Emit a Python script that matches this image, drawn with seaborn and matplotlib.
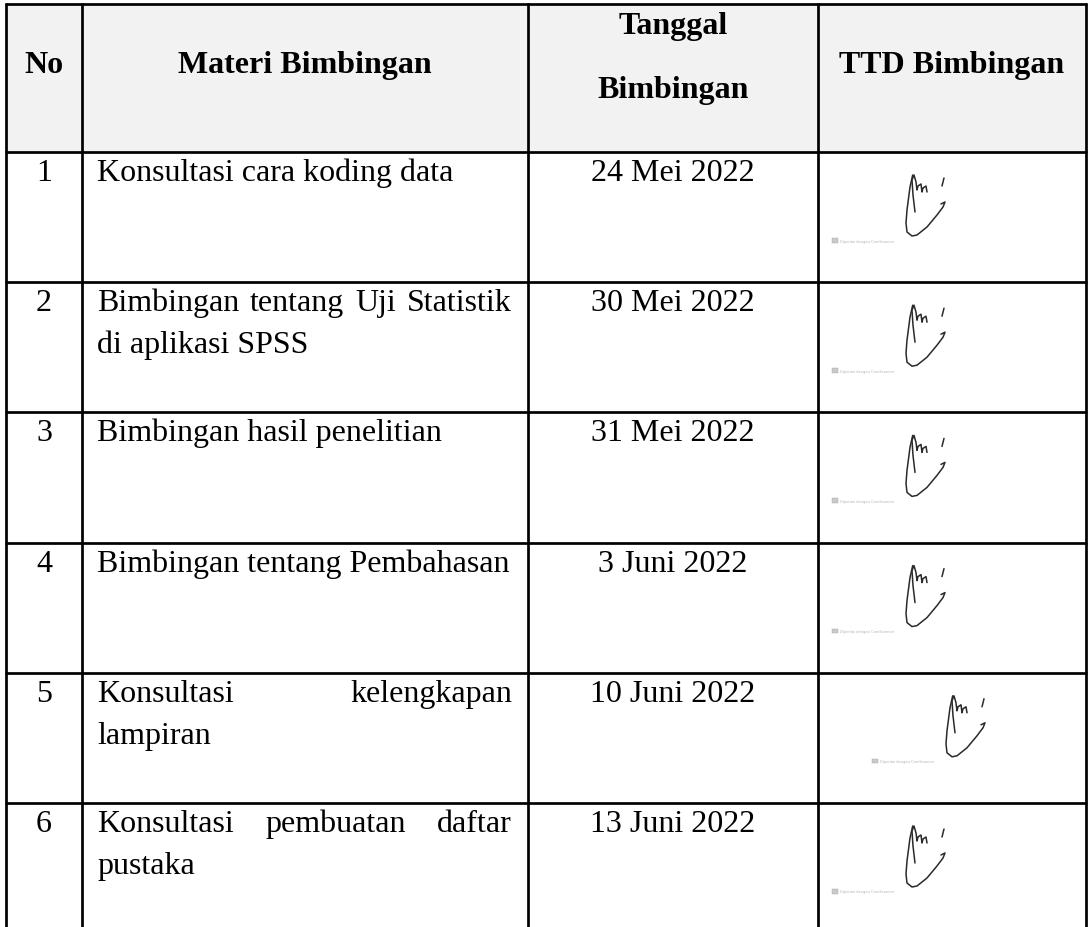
import matplotlib
matplotlib.use("Agg")
import matplotlib.pyplot as plt
from matplotlib.patches import Rectangle
import numpy as np
import pandas as pd
import seaborn as sns

# ---------------- data ----------------
HEADERS = ["No", "Materi Bimbingan", "Tanggal\nBimbingan", "TTD Bimbingan"]
NOMOR = ["1", "2", "3", "4", "5", "6"]
MATERI = [
    ["Konsultasi cara koding data"],
    ["Bimbingan tentang Uji Statistik", "di aplikasi SPSS"],
    ["Bimbingan hasil penelitian"],
    ["Bimbingan tentang Pembahasan"],
    ["Konsultasi kelengkapan", "lampiran"],
    ["Konsultasi pembuatan daftar", "pustaka"],
]
TANGGAL = ["24 Mei 2022", "30 Mei 2022", "31 Mei 2022",
           "3 Juni 2022", "10 Juni 2022", "13 Juni 2022"]
WATERMARK = "Dipindai dengan CamScanner"

# signature shape (decorative glyph, local pixel units)
SIG_MAIN_X = [7.7, 5, 2, 1, 2, 7, 12, 22, 32, 38, 40, 36]
SIG_MAIN_Y = [23, 35, 58, 71, 80, 84, 83, 75, 63, 55, 50, 52]
SIG_INNER_X = [10, 8, 7, 9, 11, 12, 13, 16, 17, 18, 21, 22]
SIG_INNER_Y = [60, 43, 28, 23, 30, 38, 34, 32, 40, 36, 34, 40]
SIG_TICK_X = [39, 37]
SIG_TICK_Y = [26, 34]

# ---------------- style / layout ----------------
sns.set_theme(style="white")
plt.rcParams["font.family"] = ["Liberation Serif", "DejaVu Serif"]

W, H = 1089, 927
fig = plt.figure(figsize=(W / 100, H / 100), dpi=100)
ax = fig.add_axes([0, 0, 1, 1])
ax.set_xlim(0, W)
ax.set_ylim(H, 0)
ax.axis("off")

COL_X = [6, 82, 528, 818, 1086]
HEAD_TOP, HEAD_BOT = 4, 152
ROW_H = 130.2
row_tops = HEAD_BOT + ROW_H * np.arange(len(NOMOR) + 1)
FS = 23
LW = 1.95
LINE_GAP = 42
PAD_L, PAD_R = 15, 16

# header background
ax.add_patch(Rectangle((COL_X[0], HEAD_TOP), COL_X[-1] - COL_X[0],
                       HEAD_BOT - HEAD_TOP, facecolor="#f2f2f2",
                       edgecolor="none", zorder=0))

# grid lines
for y in [HEAD_TOP, HEAD_BOT] + list(row_tops[1:len(NOMOR)]):
    ax.plot([COL_X[0] - 1, COL_X[-1] + 1], [y, y], color="black", lw=LW,
            solid_capstyle="butt", zorder=3)
for x in COL_X:
    ax.plot([x, x], [HEAD_TOP - 1, H], color="black", lw=LW,
            solid_capstyle="butt", zorder=3)

# header text
centers = [(COL_X[i] + COL_X[i + 1]) / 2 for i in range(4)]
for c, h in zip(centers, HEADERS):
    lines = h.split("\n")
    if len(lines) == 1:
        ax.text(c, 73, lines[0], ha="center", va="baseline", fontsize=FS,
                fontweight="bold", color="black")
    else:
        ax.text(c, 34, lines[0], ha="center", va="baseline", fontsize=FS,
                fontweight="bold", color="black")
        ax.text(c, 98, lines[1], ha="center", va="baseline", fontsize=FS,
                fontweight="bold", color="black")

renderer = fig.canvas.get_renderer()


def word_width(w):
    t = ax.text(0, 0, w, fontsize=FS)
    bb = t.get_window_extent(renderer=renderer)
    t.remove()
    return bb.width


def draw_line(words, x0, x1, y, justify):
    if not justify or len(words) < 2:
        ax.text(x0, y, " ".join(words), ha="left", va="baseline",
                fontsize=FS, color="black")
        return
    widths = [word_width(w) for w in words]
    gap = (x1 - x0 - sum(widths)) / (len(words) - 1)
    x = x0
    for w, wd in zip(words, widths):
        ax.text(x, y, w, ha="left", va="baseline", fontsize=FS, color="black")
        x += wd + gap


sig_strokes = [(SIG_MAIN_X, SIG_MAIN_Y), (SIG_INNER_X, SIG_INNER_Y),
               (SIG_TICK_X, SIG_TICK_Y)]

for i, (no, mat, tgl) in enumerate(zip(NOMOR, MATERI, TANGGAL)):
    top = row_tops[i]
    base = top + 29
    ax.text(centers[0], base, no, ha="center", va="baseline", fontsize=FS,
            color="black")
    for j, line in enumerate(mat):
        justify = (j < len(mat) - 1)
        draw_line(line.split(), COL_X[1] + PAD_L, COL_X[2] - PAD_R,
                  base + j * LINE_GAP, justify)
    ax.text(centers[2], base, tgl, ha="center", va="baseline", fontsize=FS,
            color="black")

    # signature + scanner watermark
    sx = 905 + (40 if i == 4 else 0)
    for xs, ys in sig_strokes:
        df = pd.DataFrame({"x": sx + np.array(xs, dtype=float),
                           "y": top + np.array(ys, dtype=float)})
        sns.lineplot(data=df, x="x", y="y", sort=False, estimator=None,
                     ax=ax, color="#2a2a2a", lw=1.1, legend=False)
    wx = sx - 73
    ax.add_patch(Rectangle((wx, top + 86), 6, 4.5, facecolor="#c9c9c9",
                           edgecolor="#a9a9a9", lw=0.3, zorder=2))
    ax.text(wx + 8, top + 89.5, WATERMARK, ha="left", va="center",
            fontsize=2.6, color="#b5b5b5", family="DejaVu Sans")

ax.set_xlim(0, W)
ax.set_ylim(H, 0)
ax.axis("off")
fig.savefig("out.png", dpi=100, facecolor="white")
